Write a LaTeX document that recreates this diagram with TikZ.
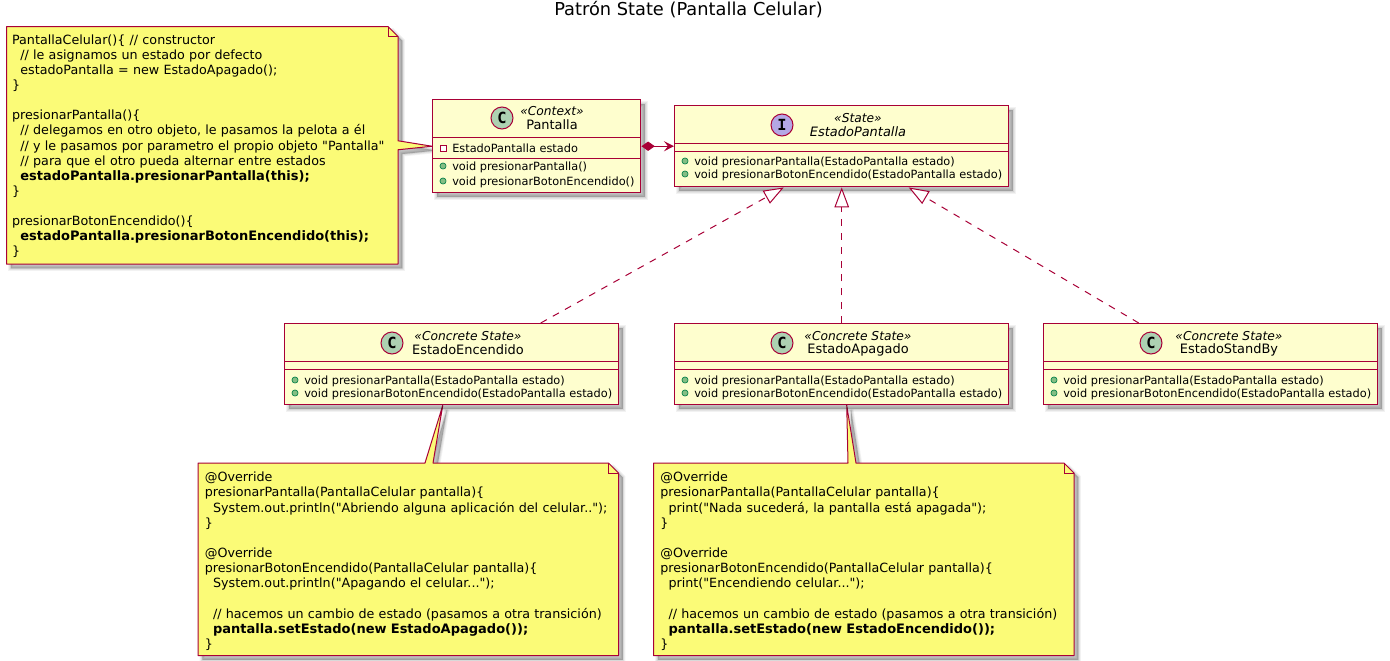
\documentclass[tikz,border=0pt]{standalone}
\usepackage{fontspec}
\setmainfont{DejaVu Sans}
\newfontfamily\notefont{DejaVu Sans}
\newfontfamily\iconfont{DejaVu Sans Mono}
\usetikzlibrary{arrows.meta,calc,shadows,backgrounds}

\definecolor{umlline}{HTML}{A80036}
\definecolor{umlfill}{HTML}{FEFECE}
\definecolor{umlnote}{HTML}{FBFB77}
\definecolor{umlclassicon}{HTML}{ADD1B2}
\definecolor{umlifaceicon}{HTML}{B4A7E5}
\definecolor{umlpublic}{HTML}{84BE84}
\definecolor{umlpublicline}{HTML}{038048}

\tikzset{
  softshadow/.style={
    general shadow={shadow xshift=3.2pt,shadow yshift=-3.2pt,fill=black,draw=black,line width=3.8pt,opacity=.05},
    general shadow={shadow xshift=3.2pt,shadow yshift=-3.2pt,fill=black,draw=black,line width=2.5pt,opacity=.06},
    general shadow={shadow xshift=3.2pt,shadow yshift=-3.2pt,fill=black,draw=black,line width=1.2pt,opacity=.07},
    general shadow={shadow xshift=3.2pt,shadow yshift=-3.2pt,fill=black,opacity=.09}},
  classbox/.style={draw=umlline,fill=umlfill,line width=1.1pt,anchor=north west,inner sep=0pt,softshadow},
  classsep/.style={draw=umlline,line width=1.1pt},
  classicon/.style={circle,draw=umlline,line width=.75pt,minimum size=16.5pt,inner sep=0pt,font=\iconfont\bfseries\fontsize{11.5}{11.5}\selectfont},
  stereotext/.style={font=\itshape\fontsize{9.2}{10}\selectfont},
  classtext/.style={font=\fontsize{9.7}{11}\selectfont},
  membertext/.style={anchor=base west,inner sep=0pt,font=\fontsize{8.5}{10}\selectfont},
  publicdot/.style={circle,draw=umlpublicline,fill=umlpublic,line width=.5pt,minimum size=4.6pt,inner sep=0pt},
  privatedot/.style={rectangle,draw=umlline,fill=white,line width=.6pt,minimum size=4.6pt,inner sep=0pt},
  notetext/.style={anchor=north west,inner xsep=4.9pt,inner ysep=0pt,align=left,font=\notefont\fontsize{9.53}{11.35}\selectfont},
  noteline/.style={draw=umlline,fill=umlnote,line width=.75pt,line join=round},
  foldline/.style={draw=umlline,line width=.75pt},
  realization/.style={draw=umlline,line width=.75pt,dash pattern=on 5.2pt off 5.2pt,
    -{Triangle[open,fill=white,length=15pt,width=11pt,line width=.75pt]}},
  composition/.style={draw=umlline,line width=.75pt,
    {Diamond[fill=umlline,length=10pt,width=7pt]}-{Stealth[length=7.5pt,width=7.5pt,inset=3pt,fill=umlline]}},
}

\newcommand{\umlclass}[7]{% name, left, top, width, height, first and second rule
  \node[classbox,minimum width=#4*.75pt,minimum height=#5*.75pt] (#1) at (#2,-#3) {};
  \draw[classsep] ($(#1.north west)+(0,-#6)$) -- ($(#1.north east)+(0,-#6)$);
  \draw[classsep] ($(#1.north west)+(0,-#7)$) -- ($(#1.north east)+(0,-#7)$);
}
\newcommand{\umlhead}[8]{% name, icon colour, letter, icon x, text x, top y, stereotype, title
  \node[classicon,fill=#2] (#1Icon) at (#4,-#6-7) {#3};
  \node[stereotext] (#1Stereo) at (#5,-#6) {#7};
  \node[classtext] (#1Title) at (#5,-#6-14) {#8};
}
\newcommand{\umlmember}[5]{% name, marker style, left, baseline y, text
  \node[#2] (#1Mark) at (#3+11,-#4+4) {};
  \node[membertext] (#1) at (#3+20,-#4) {#5};
}
\newcommand{\ind}{\hspace*{6.2pt}}
\newcommand{\notebf}[1]{{\fontsize{9.75}{11.35}\selectfont\bfseries #1}}

\begin{document}
\begin{tikzpicture}[x=.75pt,y=.75pt]
\useasboundingbox (0,0) rectangle (1390,-661);

\node[font=\fontsize{13.35}{16}\selectfont] (title) at (688.5,-10) {Patrón State (Pantalla Celular)};

% clases
\umlclass{pantalla}{432}{99}{208}{93}{38.5}{59.5}
\umlhead{pantalla}{umlclassicon}{C}{502}{552}{111}{«Context»}{Pantalla}
\umlmember{pantallaAttr}{privatedot}{432}{152}{EstadoPantalla estado}
\umlmember{pantallaOpA}{publicdot}{432}{170}{void presionarPantalla()}
\umlmember{pantallaOpB}{publicdot}{432}{185}{void presionarBotonEncendido()}

\umlclass{estadoPantalla}{674}{105}{334}{81}{38.5}{46.5}
\umlhead{estadoPantalla}{umlifaceicon}{I}{782}{858}{118}{«State»}{\itshape EstadoPantalla}
\umlmember{estadoPantallaOpA}{publicdot}{674}{165}{void presionarPantalla(EstadoPantalla estado)}
\umlmember{estadoPantallaOpB}{publicdot}{674}{178}{void presionarBotonEncendido(EstadoPantalla estado)}

\umlclass{encendido}{284}{323}{334}{81}{38.5}{46.5}
\umlhead{encendido}{umlclassicon}{C}{392}{468}{336}{«Concrete State»}{EstadoEncendido}
\umlmember{encendidoOpA}{publicdot}{284}{384}{void presionarPantalla(EstadoPantalla estado)}
\umlmember{encendidoOpB}{publicdot}{284}{397}{void presionarBotonEncendido(EstadoPantalla estado)}

\umlclass{apagado}{674}{323}{334}{81}{38.5}{46.5}
\umlhead{apagado}{umlclassicon}{C}{782}{858}{336}{«Concrete State»}{EstadoApagado}
\umlmember{apagadoOpA}{publicdot}{674}{384}{void presionarPantalla(EstadoPantalla estado)}
\umlmember{apagadoOpB}{publicdot}{674}{397}{void presionarBotonEncendido(EstadoPantalla estado)}

\umlclass{standby}{1043}{323}{334}{81}{38.5}{46.5}
\umlhead{standby}{umlclassicon}{C}{1151}{1229}{336}{«Concrete State»}{EstadoStandBy}
\umlmember{standbyOpA}{publicdot}{1043}{384}{void presionarPantalla(EstadoPantalla estado)}
\umlmember{standbyOpB}{publicdot}{1043}{397}{void presionarBotonEncendido(EstadoPantalla estado)}

% relaciones
\draw[composition] (pantalla.east) -- (estadoPantalla.west);
\draw[realization] ($(encendido.north)+(89,0)$) -- ($(estadoPantalla.south)+(-58,0)$);
\draw[realization] (apagado.north) -- (estadoPantalla.south);
\draw[realization] ($(standby.north)+(-72,0)$) -- ($(estadoPantalla.south)+(67,0)$);

% notas
\node[notetext,inner xsep=4pt,text width=380.3*.75pt,minimum height=237*.75pt] (notePantalla) at (6.5,-26.5) {%
\rule{0pt}{8.75pt}PantallaCelular()\{ // constructor\\
\ind// le asignamos un estado por defecto\\
\ind estadoPantalla = new EstadoApagado();\\
\}\\[11.35pt]
presionarPantalla()\{\\
\ind// delegamos en otro objeto, le pasamos la pelota a él\\
\ind// y le pasamos por parametro el propio objeto "Pantalla"\\
\ind// para que el otro pueda alternar entre estados\\
\ind\notebf{estadoPantalla.presionarPantalla(this);}\\
\}\\[11.35pt]
presionarBotonEncendido()\{\\
\ind\notebf{estadoPantalla.presionarBotonEncendido(this);}\\
\}};

\node[notetext,text width=406.9*.75pt,minimum height=192*.75pt] (noteEncendido) at (198,-463) {%
\rule{0pt}{10.25pt}@Override\\
presionarPantalla(PantallaCelular pantalla)\{\\
\ind System.out.println("Abriendo alguna aplicación del celular..");\\
\}\\[11.35pt]
@Override\\
presionarBotonEncendido(PantallaCelular pantalla)\{\\
\ind System.out.println("Apagando el celular...");\\[11.35pt]
\ind// hacemos un cambio de estado (pasamos a otra transición)\\
\ind\notebf{pantalla.setEstado(new EstadoApagado());}\\
\}};

\node[notetext,text width=406.9*.75pt,minimum height=192*.75pt] (noteApagado) at (653.5,-463) {%
\rule{0pt}{10.25pt}@Override\\
presionarPantalla(PantallaCelular pantalla)\{\\
\ind print("Nada sucederá, la pantalla está apagada");\\
\}\\[11.35pt]
@Override\\
presionarBotonEncendido(PantallaCelular pantalla)\{\\
\ind print("Encendiendo celular...");\\[11.35pt]
\ind// hacemos un cambio de estado (pasamos a otra transición)\\
\ind\notebf{pantalla.setEstado(new EstadoEncendido());}\\
\}};

\begin{scope}[on background layer]
\draw[noteline,softshadow] (notePantalla.north west) -- ($(notePantalla.north east)+(-10,0)$)
  -- ($(notePantalla.north east)+(0,-10)$) -- ($(notePantalla.east)+(0,4.5)$) -- (pantalla.west)
  -- ($(notePantalla.east)+(0,-4.5)$) -- (notePantalla.south east) -- (notePantalla.south west) -- cycle;
\draw[noteline,softshadow] (noteEncendido.north west) -- ($(noteEncendido.north west)+(227,0)$)
  -- ($(encendido.south)+(-9,0)$) -- ($(noteEncendido.north west)+(235,0)$)
  -- ($(noteEncendido.north east)+(-10,0)$) -- ($(noteEncendido.north east)+(0,-10)$)
  -- (noteEncendido.south east) -- (noteEncendido.south west) -- cycle;
\draw[noteline,softshadow] (noteApagado.north west) -- ($(noteApagado.north west)+(194.5,0)$)
  -- ($(apagado.south)+(5,0)$) -- ($(noteApagado.north west)+(202.5,0)$)
  -- ($(noteApagado.north east)+(-10,0)$) -- ($(noteApagado.north east)+(0,-10)$)
  -- (noteApagado.south east) -- (noteApagado.south west) -- cycle;
\end{scope}
\draw[foldline] ($(notePantalla.north east)+(-10,0)$) |- ($(notePantalla.north east)+(0,-10)$);
\draw[foldline] ($(noteEncendido.north east)+(-10,0)$) |- ($(noteEncendido.north east)+(0,-10)$);
\draw[foldline] ($(noteApagado.north east)+(-10,0)$) |- ($(noteApagado.north east)+(0,-10)$);
\end{tikzpicture}
\end{document}
